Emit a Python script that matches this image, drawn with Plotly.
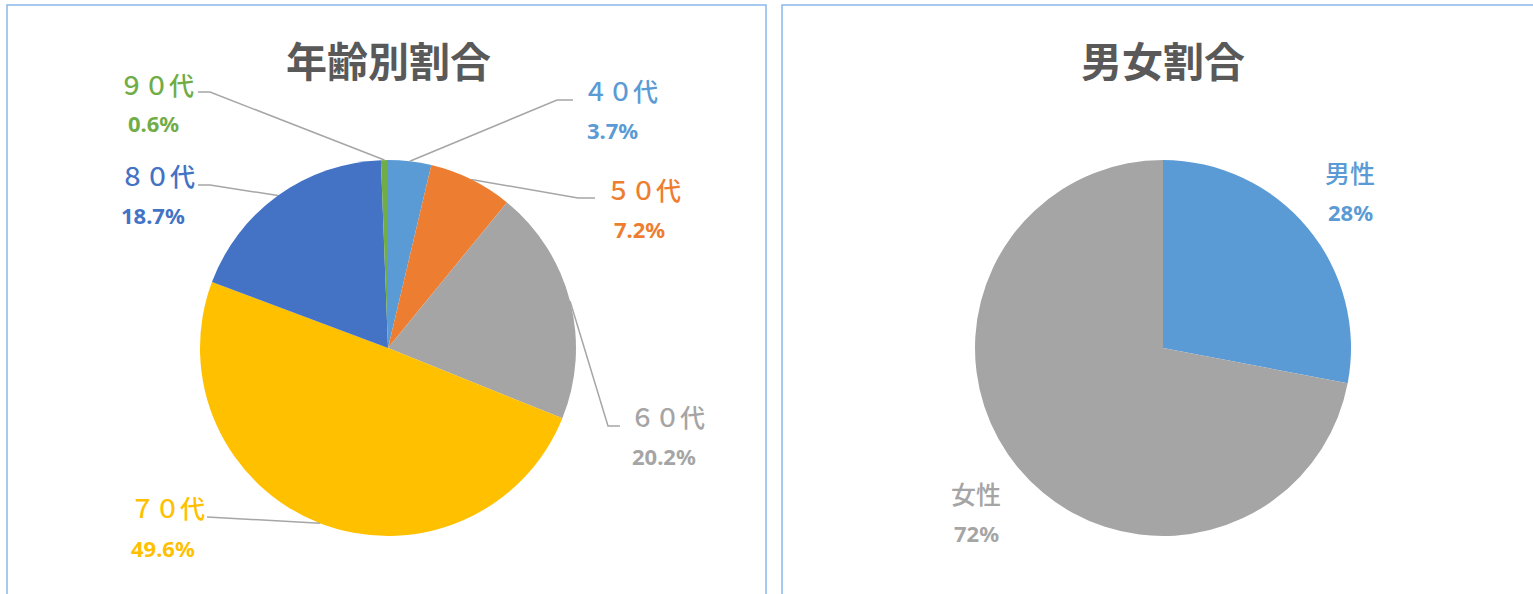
import math
import plotly.graph_objects as go

# ---- data ----
age_labels = ["４０代", "５０代", "６０代", "７０代", "８０代", "９０代"]
age_values = [3.7, 7.2, 20.2, 49.6, 18.7, 0.6]
age_pct_text = ["3.7%", "7.2%", "20.2%", "49.6%", "18.7%", "0.6%"]
age_colors = ["#5B9BD5", "#ED7D31", "#A5A5A5", "#FFC000", "#4472C4", "#70AD47"]

sex_labels = ["男性", "女性"]
sex_values = [28, 72]
sex_pct_text = ["28%", "72%"]
sex_colors = ["#5B9BD5", "#A5A5A5"]

titles = ["年齢別割合", "男女割合"]

# ---- layout constants (pixels) ----
W, H = 1533, 594
R = 188
left_c = (388, 348)
right_c = (1163, 348)

# label positions (category centre x, y ; percent centre x, y)
age_label_pos = [(620, 90, 612, 130), (643, 189, 639, 229), (667, 416, 664, 456),
                 (167, 507, 163, 548), (157, 175, 153, 215), (156, 84, 153, 123)]
# leader line anchor near the label: (end x, y, horizontal start x)
age_leader = [(573, 100, 557), (595, 198, 578), (620, 426, 608),
              (207, 517, 207), (198, 185, 210), (198, 92, 210)]
sex_label_pos = [(1350, 172, 1350, 212), (976, 493, 976, 533)]


def px(x):
    return x / W


def py(y):
    return 1 - y / H


def domain(c):
    return dict(x=[px(c[0] - R), px(c[0] + R)], y=[py(c[1] + R), py(c[1] - R)])


fig = go.Figure()
fig.add_trace(go.Pie(labels=age_labels, values=age_values, sort=False,
                     direction="clockwise", rotation=0, textinfo="none",
                     marker=dict(colors=age_colors, line=dict(width=0)),
                     domain=domain(left_c), hoverinfo="skip", showlegend=False))
fig.add_trace(go.Pie(labels=sex_labels, values=sex_values, sort=False,
                     direction="clockwise", rotation=0, textinfo="none",
                     marker=dict(colors=sex_colors, line=dict(width=0)),
                     domain=domain(right_c), hoverinfo="skip", showlegend=False))

annotations = []
shapes = []

# panel borders
shapes.append(dict(type="rect", xref="paper", yref="paper", x0=px(7), x1=px(766),
                   y0=py(600), y1=py(5), line=dict(color="#8AB6EA", width=1.5)))
shapes.append(dict(type="rect", xref="paper", yref="paper", x0=px(782), x1=px(1545),
                   y0=py(600), y1=py(5), line=dict(color="#8AB6EA", width=1.5)))

# titles
for t, cx in zip(titles, [left_c[0], right_c[0]]):
    annotations.append(dict(text="<b>%s</b>" % t, x=px(cx), y=py(59), xref="paper", yref="paper",
                            showarrow=False, xanchor="center", yanchor="middle",
                            font=dict(family="Noto Sans CJK JP", size=41, color="#595959")))

cat_font = "Noto Sans CJK JP"
pct_font = "Noto Sans"


def add_labels(labels, pcts, colors, pos):
    for lab, pc, col, (cx, cy, qx, qy) in zip(labels, pcts, colors, pos):
        annotations.append(dict(text=lab, x=px(cx), y=py(cy), xref="paper", yref="paper",
                                showarrow=False, xanchor="center", yanchor="middle",
                                font=dict(family=cat_font, size=25, color=col, weight=500)))
        annotations.append(dict(text="<b>%s</b>" % pc, x=px(qx), y=py(qy), xref="paper", yref="paper",
                                showarrow=False, xanchor="center", yanchor="middle",
                                font=dict(family=pct_font, size=22, color=col)))


add_labels(age_labels, age_pct_text, age_colors, age_label_pos)
add_labels(sex_labels, sex_pct_text, sex_colors, sex_label_pos)

# leader lines from slice mid-edge to label
total = sum(age_values)
cum = 0.0
for v, (lx, ly, hx) in zip(age_values, age_leader):
    mid = (cum + v / 2) / total * 2 * math.pi
    cum += v
    ex = left_c[0] + R * math.sin(mid)
    ey = left_c[1] - R * math.cos(mid)
    path = "M %f %f L %f %f L %f %f" % (px(ex), py(ey), px(hx), py(ly), px(lx), py(ly))
    shapes.append(dict(type="path", xref="paper", yref="paper", path=path,
                       line=dict(color="#A6A6A6", width=1.5)))

fig.update_layout(width=W, height=H, margin=dict(l=0, r=0, t=0, b=0),
                  paper_bgcolor="white", plot_bgcolor="white",
                  annotations=annotations, shapes=shapes, showlegend=False)

fig.write_html("out.html", config={"displayModeBar": False, "responsive": False},
               post_script="document.body.style.margin='0';document.body.style.overflow='hidden';")
